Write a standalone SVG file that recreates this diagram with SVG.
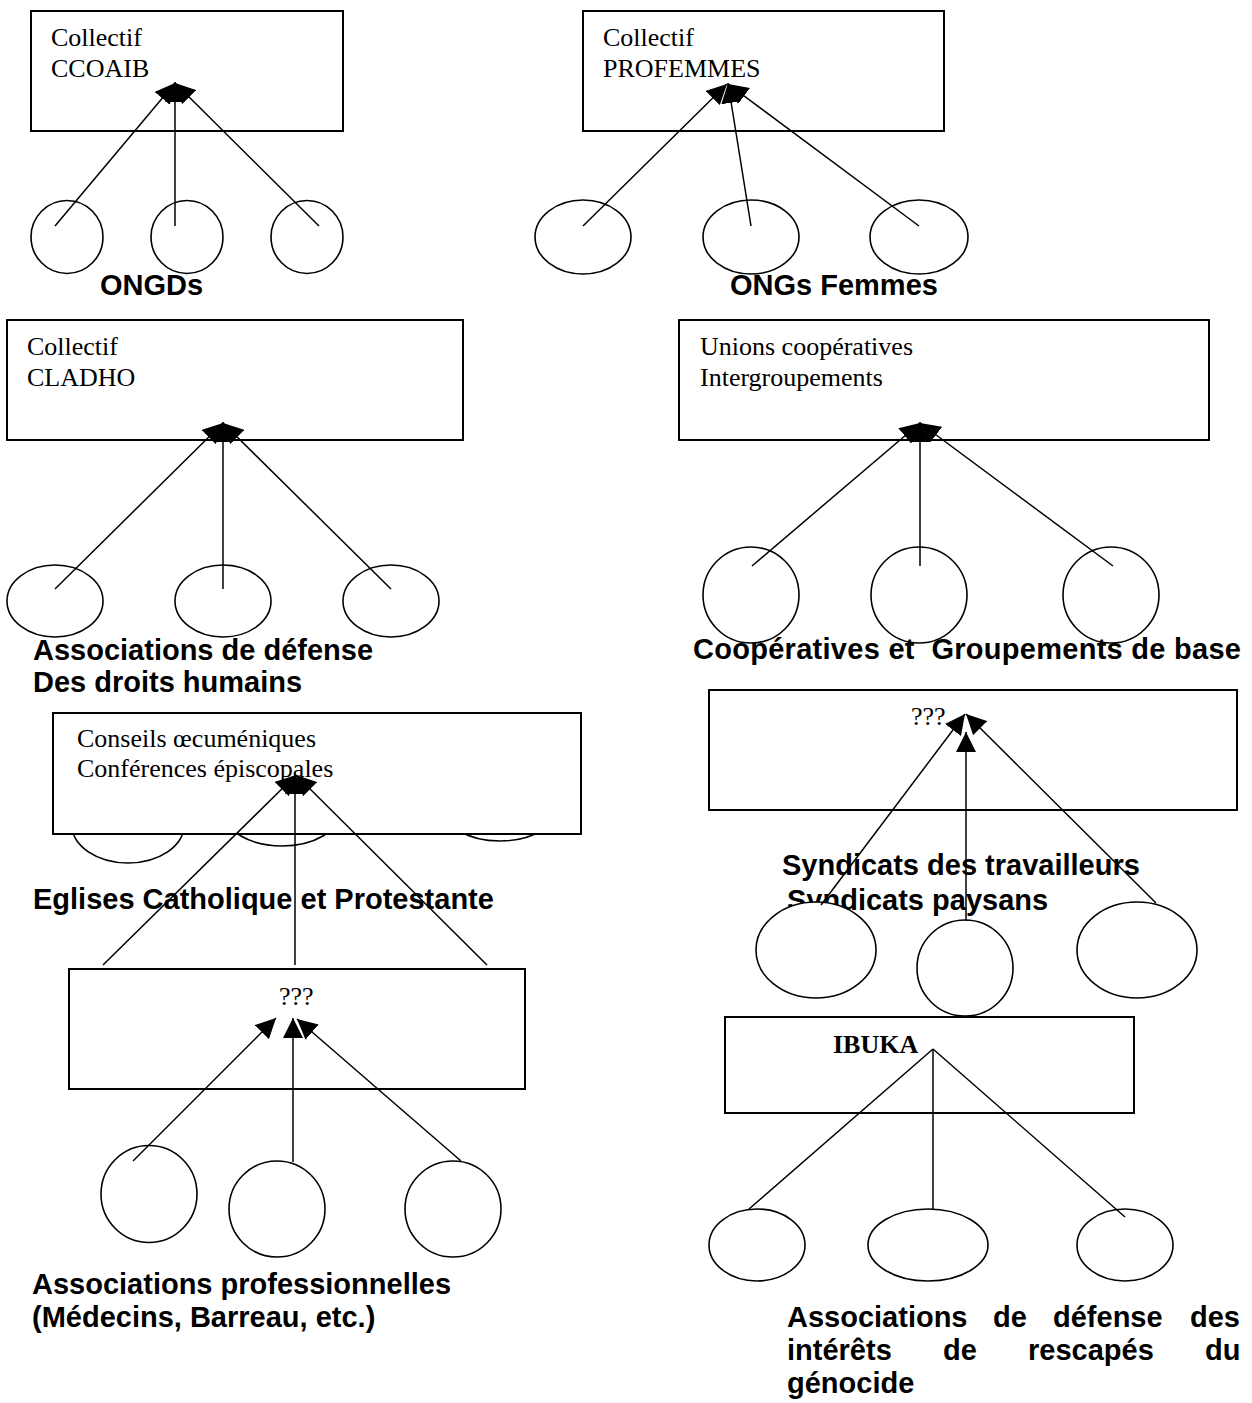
<svg xmlns="http://www.w3.org/2000/svg" width="1252" height="1403" viewBox="0 0 1252 1403">
<style>
.bg{fill:#fff}
.box{fill:#fff;stroke:#000;stroke-width:2}
.el{fill:#fff;stroke:#000;stroke-width:1.6}
.t{font-family:"Liberation Serif","Times New Roman",serif;font-size:26px;fill:#000}
.tb{font-family:"Liberation Serif","Times New Roman",serif;font-size:26px;font-weight:bold;fill:#000}
.lb{font-family:"Liberation Sans",Arial,sans-serif;font-size:29px;font-weight:bold;fill:#000}
.c line{stroke:#000;stroke-width:1.5}
.c .a{marker-end:url(#ah)}
</style>
<defs>
<marker id="ah" viewBox="0 0 20 20" markerWidth="20" markerHeight="20" refX="20" refY="10" orient="auto" markerUnits="userSpaceOnUse">
<path d="M0,0 L20,10 L0,20 z" fill="#000"/>
</marker>
</defs>
<rect class="bg" x="0" y="0" width="1252" height="1403"/>

<g id="labels">
<text class="lb" x="100" y="295">ONGDs</text>
<text class="lb" x="730" y="295">ONGs Femmes</text>
<text class="lb" x="33" y="660">Associations de défense</text>
<text class="lb" x="33" y="692">Des droits humains</text>
<text class="lb" x="33" y="909">Eglises Catholique et Protestante</text>
<text class="lb" x="782" y="875">Syndicats des travailleurs</text>
<text class="lb" x="787" y="910">Syndicats paysans</text>
<text class="lb" x="32" y="1294">Associations professionnelles</text>
<text class="lb" x="32" y="1327">(Médecins, Barreau, etc.)</text>
<text class="lb" y="1327"><tspan x="787">Associations</tspan><tspan x="993">de</tspan><tspan x="1053">défense</tspan><tspan x="1190">des</tspan></text>
<text class="lb" y="1360"><tspan x="787">intérêts</tspan><tspan x="943">de</tspan><tspan x="1028">rescapés</tspan><tspan x="1205">du</tspan></text>
<text class="lb" x="787" y="1393">génocide</text>
</g>

<g id="ongd-1"><ellipse class="el" cx="67" cy="237" rx="36" ry="36.5"/></g>
<g id="ongd-2"><ellipse class="el" cx="187" cy="237" rx="36" ry="36.5"/></g>
<g id="ongd-3"><ellipse class="el" cx="307" cy="237" rx="36" ry="36.5"/></g>

<g id="femmes-1"><ellipse class="el" cx="583" cy="237" rx="48" ry="37"/></g>
<g id="femmes-2"><ellipse class="el" cx="751" cy="237" rx="48" ry="37"/></g>
<g id="femmes-3"><ellipse class="el" cx="919" cy="237" rx="49" ry="37"/></g>

<g id="dh-1"><ellipse class="el" cx="55" cy="601" rx="48" ry="36"/></g>
<g id="dh-2"><ellipse class="el" cx="223" cy="601" rx="48" ry="36"/></g>
<g id="dh-3"><ellipse class="el" cx="391" cy="601" rx="48" ry="36"/></g>

<g id="coop-1"><ellipse class="el" cx="751" cy="595" rx="48" ry="48"/></g>
<g id="coop-2"><ellipse class="el" cx="919" cy="595" rx="48" ry="48"/></g>
<g id="coop-3"><ellipse class="el" cx="1111" cy="595" rx="48" ry="48"/></g>

<g id="eglise-1"><ellipse class="el" cx="128" cy="825" rx="56" ry="38"/></g>
<g id="eglise-2"><ellipse class="el" cx="282" cy="812" rx="58" ry="34"/></g>
<g id="eglise-3"><ellipse class="el" cx="500" cy="805" rx="59" ry="36"/></g>

<g id="pro-1"><ellipse class="el" cx="149" cy="1194" rx="48" ry="48.5"/></g>
<g id="pro-2"><ellipse class="el" cx="277" cy="1209" rx="48" ry="48"/></g>
<g id="pro-3"><ellipse class="el" cx="453" cy="1209" rx="48" ry="48"/></g>

<g id="synd-1"><ellipse class="el" cx="816" cy="950" rx="60" ry="48"/></g>
<g id="synd-2"><ellipse class="el" cx="965" cy="968" rx="48" ry="48"/></g>
<g id="synd-3"><ellipse class="el" cx="1137" cy="950" rx="60" ry="48"/></g>

<g id="resc-1"><ellipse class="el" cx="757" cy="1245" rx="48" ry="36"/></g>
<g id="resc-2"><ellipse class="el" cx="928" cy="1245" rx="60" ry="36"/></g>
<g id="resc-3"><ellipse class="el" cx="1125" cy="1245" rx="48" ry="36"/></g>

<g id="label-coop">
<text class="lb" x="693" y="659" xml:space="preserve" textLength="548" lengthAdjust="spacing">Coopératives et  Groupements de base</text>
</g>

<g id="ccoaib">
<rect class="box" x="31" y="11" width="312" height="120"/>
<text class="t" x="51" y="46">Collectif</text>
<text class="t" x="51" y="77">CCOAIB</text>
</g>
<g id="profemmes">
<rect class="box" x="583" y="11" width="361" height="120"/>
<text class="t" x="603" y="46">Collectif</text>
<text class="t" x="603" y="77">PROFEMMES</text>
</g>
<g id="cladho">
<rect class="box" x="7" y="320" width="456" height="120"/>
<text class="t" x="27" y="355">Collectif</text>
<text class="t" x="27" y="386">CLADHO</text>
</g>
<g id="unions">
<rect class="box" x="679" y="320" width="530" height="120"/>
<text class="t" x="700" y="355">Unions coopératives</text>
<text class="t" x="700" y="386">Intergroupements</text>
</g>
<g id="conseils">
<rect class="box" x="53" y="713" width="528" height="121"/>
<text class="t" x="77" y="747">Conseils œcuméniques</text>
<text class="t" x="77" y="777">Conférences épiscopales</text>
</g>
<g id="inconnu-pro">
<rect class="box" x="69" y="969" width="456" height="120"/>
<text class="t" x="279" y="1005">???</text>
</g>
<g id="inconnu-synd">
<rect class="box" x="709" y="690" width="528" height="120"/>
<text class="t" x="911" y="725">???</text>
</g>
<g id="ibuka">
<rect class="box" x="725" y="1017" width="409" height="96"/>
<text class="tb" x="833" y="1053">IBUKA</text>
</g>

<g id="connectors" class="c">
<line class="a" x1="55" y1="226" x2="175" y2="83"/>
<line class="a" x1="175" y1="226" x2="175" y2="82"/>
<line class="a" x1="319" y1="226" x2="175" y2="83"/>

<line class="a" x1="583" y1="226" x2="727" y2="84"/>
<line class="a" x1="751" y1="226" x2="728" y2="83"/>
<line class="a" x1="919" y1="226" x2="728" y2="84"/>

<line class="a" x1="55" y1="589" x2="223" y2="423"/>
<line class="a" x1="223" y1="589" x2="223" y2="422"/>
<line class="a" x1="391" y1="589" x2="223" y2="423"/>

<line class="a" x1="752" y1="566" x2="920" y2="423"/>
<line class="a" x1="920" y1="566" x2="920" y2="422"/>
<line class="a" x1="1113" y1="566" x2="920" y2="423"/>

<line class="a" x1="103" y1="965" x2="296" y2="775"/>
<line class="a" x1="295" y1="965" x2="295" y2="774"/>
<line class="a" x1="487" y1="965" x2="296" y2="775"/>

<line class="a" x1="133" y1="1161" x2="276" y2="1018"/>
<line class="a" x1="293" y1="1162" x2="293" y2="1018"/>
<line class="a" x1="461" y1="1161" x2="297" y2="1019"/>

<line class="a" x1="821" y1="905" x2="965" y2="714"/>
<line class="a" x1="966" y1="921" x2="966" y2="732"/>
<line class="a" x1="1156" y1="903" x2="966" y2="714"/>

<line x1="933" y1="1049" x2="749" y2="1209"/>
<line x1="933" y1="1049" x2="933" y2="1209"/>
<line x1="933" y1="1049" x2="1125" y2="1217"/>
</g>
</svg>
